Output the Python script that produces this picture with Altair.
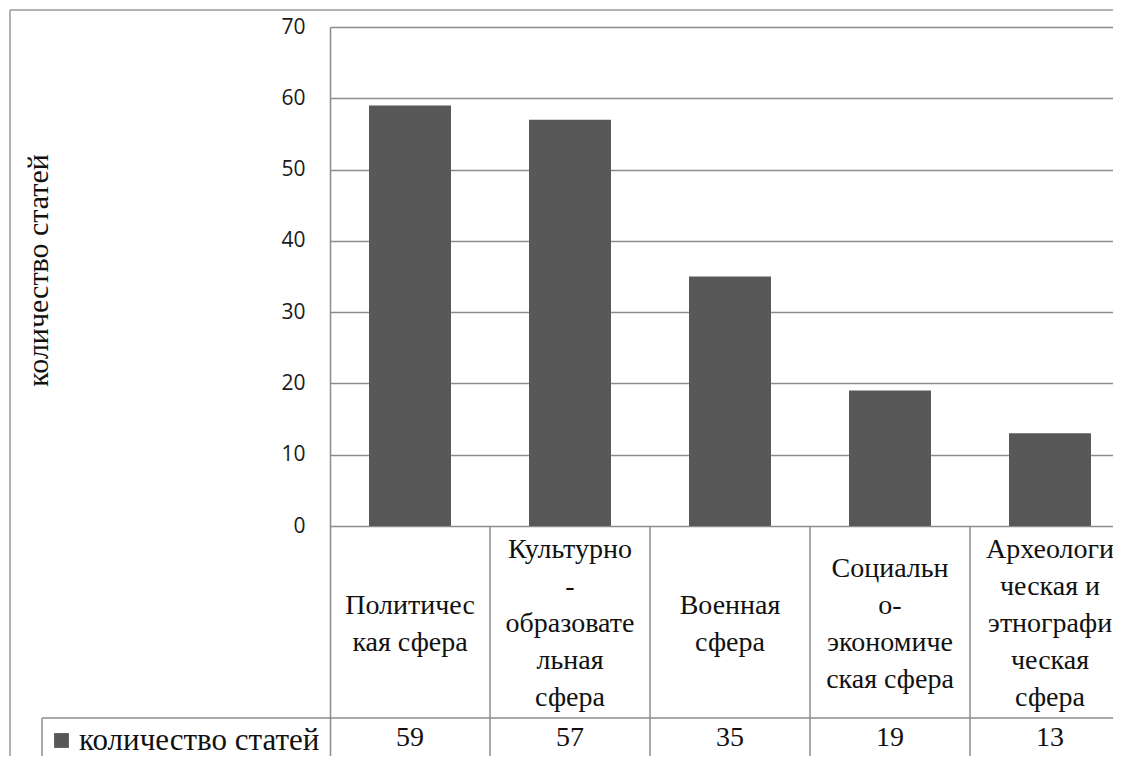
import altair as alt
import pandas as pd

# ---- data ----
categories = [
    "Политическая сфера",
    "Культурно-образовательная сфера",
    "Военная сфера",
    "Социально-экономическая сфера",
    "Археологическая и этнографическая сфера",
]
category_labels = [
    "Политичес\nкая сфера",
    "Культурно\n-\nобразовате\nльная\nсфера",
    "Военная\nсфера",
    "Социальн\nо-\nэкономиче\nская сфера",
    "Археологи\nческая и\nэтнографи\nческая\nсфера",
]
counts = [59, 57, 35, 19, 13]
series_name = "количество статей"
y_ticks = [0, 10, 20, 30, 40, 50, 60, 70]

# ---- layout ----
W, H = 783, 729
PAD_L, PAD_T = 322, 19
Y_MAX = 70
PX_PER_UNIT = 499 / 70
Y_MIN = Y_MAX - H / PX_PER_UNIT
COL_W = 160
LH = 37
LABEL_CENTER_PX = 597
LINE = "#8c8c8c"
BAR = "#585858"
SERIF = "Liberation Serif"


def px_to_y(px):
    return Y_MAX - px / PX_PER_UNIT


df = pd.DataFrame({
    "category": categories,
    "label": category_labels,
    "count": counts,
    "series": [series_name] * len(categories),
})

xscale = alt.Scale(domain=category_labels, range=[0, COL_W * len(categories)],
                   paddingInner=0, paddingOuter=0)
yscale = alt.Scale(domain=[Y_MIN, Y_MAX], nice=False, zero=False)

base = alt.Chart(df)

bars = base.mark_bar(size=82).encode(
    x=alt.X("label:N", scale=xscale, axis=None, sort=None),
    y=alt.Y("count:Q", scale=yscale, title=series_name,
            axis=alt.Axis(values=y_ticks, title=series_name, ticks=False,
                          labelFont="Open Sans", labelFontSize=21, labelColor="#1a1a1a",
                          labelPadding=25, grid=True, gridColor=LINE, gridWidth=1.5,
                          domain=True, domainColor=LINE, domainWidth=1.5,
                          titleFont=SERIF, titleFontSize=30, titleFontWeight="normal",
                          titleColor="#111111", titleX=-292, titleY=243, titleAngle=270,
                          titleAlign="center", titleBaseline="middle")),
    y2=alt.Y2Datum(0),
    color=alt.Color("series:N",
                    scale=alt.Scale(domain=[series_name], range=[BAR]),
                    legend=alt.Legend(orient="none", legendX=-284, legendY=698, title=None,
                                      symbolType="square", symbolSize=220, symbolStrokeWidth=0,
                                      labelFont=SERIF, labelFontSize=31, labelColor="#111111",
                                      labelLimit=400, padding=0, labelOffset=2)),
)

cat_text = base.transform_calculate(
    nlines="length(split(datum.label, '\\n'))",
).transform_calculate(
    ty=f"{Y_MAX} - ({LABEL_CENTER_PX} - (datum.nlines - 1) * {LH} / 2) / {PX_PER_UNIT}",
).mark_text(lineBreak="\n", font=SERIF, fontSize=28, lineHeight=LH,
            baseline="middle", align="center", color="#111111").encode(
    x=alt.X("label:N", scale=xscale, sort=None, axis=None),
    y=alt.Y("ty:Q", scale=yscale, title=series_name),
    text="label:N",
)

val_text = base.mark_text(font=SERIF, fontSize=28, baseline="middle", align="center",
                          color="#111111").encode(
    x=alt.X("label:N", scale=xscale, sort=None, axis=None),
    y=alt.value(711),
    text="count:Q",
)

col_lines = base.transform_filter(
    alt.datum.label != category_labels[0]
).mark_rule(color=LINE, strokeWidth=1.5, xOffset=-COL_W / 2).encode(
    x=alt.X("label:N", scale=xscale, sort=None, axis=None),
    y=alt.YDatum(0, title=series_name),
    y2=alt.Y2Datum(Y_MIN),
)

first_only = base.transform_filter(alt.datum.label == category_labels[0])
row_line = first_only.mark_rule(color=LINE, strokeWidth=1.5).encode(
    x=alt.value(-288), x2=alt.value(W), y=alt.YDatum(px_to_y(691), title=series_name))
legend_cell_left = first_only.mark_rule(color=LINE, strokeWidth=1.5).encode(
    x=alt.value(-288), y=alt.YDatum(px_to_y(691), title=series_name), y2=alt.Y2Datum(Y_MIN))
frame_left = first_only.mark_rule(color="#9a9a9a", strokeWidth=1.5).encode(
    x=alt.value(-320), y=alt.YDatum(px_to_y(-17), title=series_name), y2=alt.Y2Datum(Y_MIN))
frame_top = first_only.mark_rule(color="#9a9a9a", strokeWidth=1.5).encode(
    x=alt.value(-320), x2=alt.value(W), y=alt.YDatum(px_to_y(-17), title=series_name))

chart = alt.layer(
    bars, cat_text, val_text, col_lines, row_line, legend_cell_left,
    frame_left, frame_top,
).properties(
    width=W, height=H,
    autosize=alt.AutoSizeParams(type="none"),
    padding={"left": PAD_L, "top": PAD_T, "right": 0, "bottom": 0},
    background="white",
).configure_view(stroke=None)

chart.save("out.html", embed_options={"renderer": "svg", "actions": False})
